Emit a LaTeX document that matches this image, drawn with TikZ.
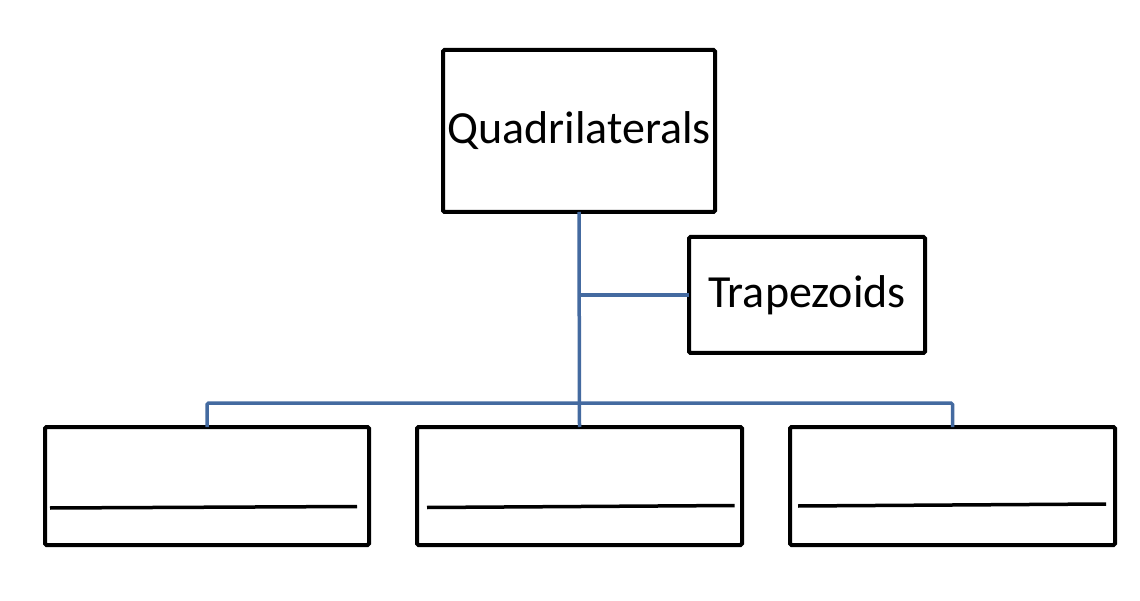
\documentclass[tikz,border=0pt]{standalone}
\usepackage{fontspec}
\setmainfont{Carlito}
\definecolor{linkblue}{RGB}{68,106,160}
\begin{document}
\begin{tikzpicture}[x=1pt,y=-1pt,
  box/.style={draw=black,fill=white,line width=4pt,rounded corners=1.5pt,
    inner sep=0pt,outer sep=0pt,font=\fontsize{46}{55}\selectfont},
  link/.style={draw=linkblue,line width=3.5pt,rounded corners=1.5pt},
  blank/.style={draw=black,line width=3.5pt}]
\useasboundingbox (0,0) rectangle (1140,601);
% boxes
\node[box,minimum width=272pt,minimum height=162pt] (q) at (579,131) {Quadrilaterals};
\node[box,minimum width=236pt,minimum height=116pt] (t) at (807,295) {Trapezoids};
\node[box,minimum width=324pt,minimum height=118pt] (b1) at (207,486) {};
\node[box,minimum width=325pt,minimum height=118pt] (b2) at (579.5,486) {};
\node[box,minimum width=325pt,minimum height=118pt] (b3) at (952.5,486) {};
\coordinate (bus) at (580,403);
% connectors
\draw[link] (q.south) -- (b2.north);
\draw[link] (b1.north) |- (bus) -| (b3.north);
\draw[link] (q.south |- t.west) -- (t.west);
% blank lines
\draw[blank] (50,508) -- (357,506.5);
\draw[blank] (427,507.5) -- (734.5,505.5);
\draw[blank] (798,506) -- (1106,504);
\end{tikzpicture}
\end{document}
